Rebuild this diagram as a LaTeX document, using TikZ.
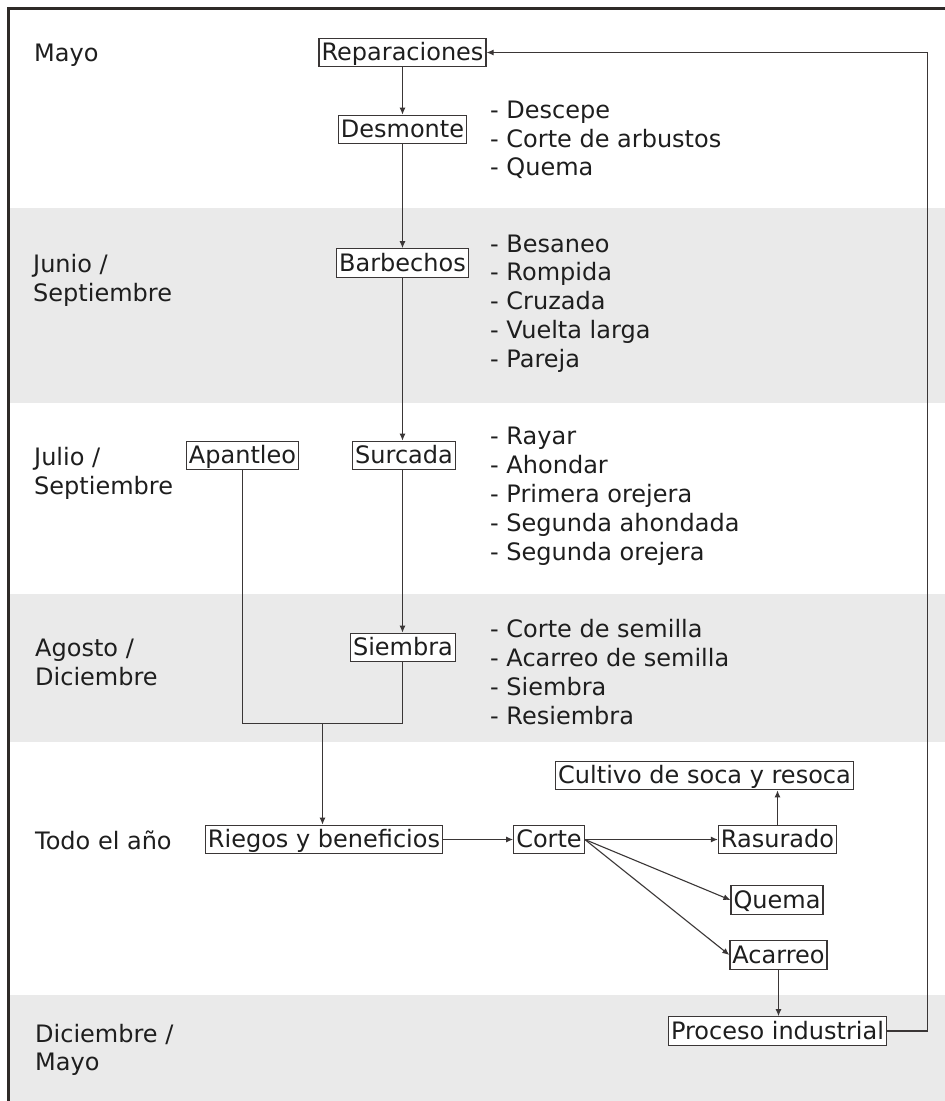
\documentclass[tikz,border=0pt]{standalone}
\usepackage{fontspec}
\setmainfont{DejaVu Sans}
\usetikzlibrary{arrows.meta}
\definecolor{band}{HTML}{EAEAEA}
\definecolor{ink}{HTML}{1E1E1E}
\definecolor{linec}{HTML}{3A3636}
\definecolor{framec}{HTML}{2E2A28}
\begin{document}
\begin{tikzpicture}[x=1pt,y=-1pt,
  every node/.style={font=\fontsize{24}{29}\selectfont, text=ink},
  box/.style={draw=linec, fill=white, line width=1.2pt, inner xsep=2.5pt, inner ysep=2.5pt,
              text height=20pt, text depth=3.5pt},
  lbl/.style={anchor=base west, inner sep=0pt},
  conn/.style={draw=linec, line width=1.1pt},
  arr/.style={conn, -{Latex[length=7pt,width=6pt]}}
  ]
\useasboundingbox (0,0) rectangle (945,1101);
% bands
\fill[white] (0,0) rectangle (945,1101);
\fill[band] (8.5,208) rectangle (945,403);
\fill[band] (8.5,594) rectangle (945,742);
\fill[band] (8.5,995) rectangle (945,1101);
\draw[framec, line width=2.6pt] (8.5,1101) -- (8.5,8.5) -- (945,8.5);

% month labels
\node[lbl] (m1) at (34,61) {Mayo};
\node[lbl] (m2a) at (33,272) {Junio /};
\node[lbl] (m2b) at (33,301) {Septiembre};
\node[lbl] (m3a) at (34,465) {Julio /};
\node[lbl] (m3b) at (34,494) {Septiembre};
\node[lbl] (m4a) at (35,656) {Agosto /};
\node[lbl] (m4b) at (35,685) {Diciembre};
\node[lbl] (m5) at (35,849) {Todo el año};
\node[lbl] (m6a) at (35,1042) {Diciembre /};
\node[lbl] (m6b) at (35,1070) {Mayo};

% activity lists
\foreach \t [count=\i] in {- Descepe, - Corte de arbustos, - Quema}
  \node[lbl] (la\i) at (490,{118.5+28.6*(\i-1)}) {\t};
\foreach \t [count=\i] in {- Besaneo, - Rompida, - Cruzada, - Vuelta larga, - Pareja}
  \node[lbl] (lb\i) at (490,{252+28.8*(\i-1)}) {\t};
\foreach \t [count=\i] in {- Rayar, - Ahondar, - Primera orejera, - Segunda ahondada, - Segunda orejera}
  \node[lbl] (lc\i) at (490,{444.5+29*(\i-1)}) {\t};
\foreach \t [count=\i] in {- Corte de semilla, - Acarreo de semilla, - Siembra, - Resiembra}
  \node[lbl] (ld\i) at (490,{637+29*(\i-1)}) {\t};

% boxes
\node[box] (rep) at (402.5,52.5) {Reparaciones};
\node[box] (des) at (402.5,129.5) {Desmonte};
\node[box] (bar) at (402.5,263) {Barbechos};
\node[box] (sur) at (404,455.5) {Surcada};
\node[box] (apa) at (242.5,455.5) {Apantleo};
\node[box] (sie) at (403,647.5) {Siembra};
\node[box] (rie) at (324,839.5) {Riegos y beneficios};
\node[box] (cor) at (549,839.5) {Corte};
\node[box] (ras) at (777.5,839.5) {Rasurado};
\node[box] (cul) at (704.5,775.5) {Cultivo de soca y resoca};
\node[box] (que) at (777,900) {Quema};
\node[box] (aca) at (778.5,955) {Acarreo};
\node[box] (pro) at (777.5,1031) {Proceso industrial};

\coordinate (j) at (322.5,723.5);
\coordinate (fb) at (927.5,52.5);

% connectors
\draw[arr] (rep.south) -- (des.north);
\draw[arr] (des.south) -- (bar.north);
\draw[arr] (bar.south) -- (bar.south |- sur.north);
\draw[arr] (bar.south |- sur.south) -- (bar.south |- sie.north);
\draw[conn] (apa.south) -- (apa.south |- j) -- (bar.south |- j) -- (bar.south |- sie.south);
\draw[arr] (j) -- (j |- rie.north);
\draw[arr] (rie.east) -- (cor.west);
\draw[arr] (cor.east) -- (ras.west);
\draw[arr] (cor.east) -- (que.west);
\draw[arr] (cor.east) -- (aca.west);
\draw[arr] (ras.north) -- (ras.north |- cul.south);
\draw[arr] (aca.south) -- (aca.south |- pro.north);
\draw[arr] (pro.east) -| (fb) -- (rep.east);
\end{tikzpicture}
\end{document}
